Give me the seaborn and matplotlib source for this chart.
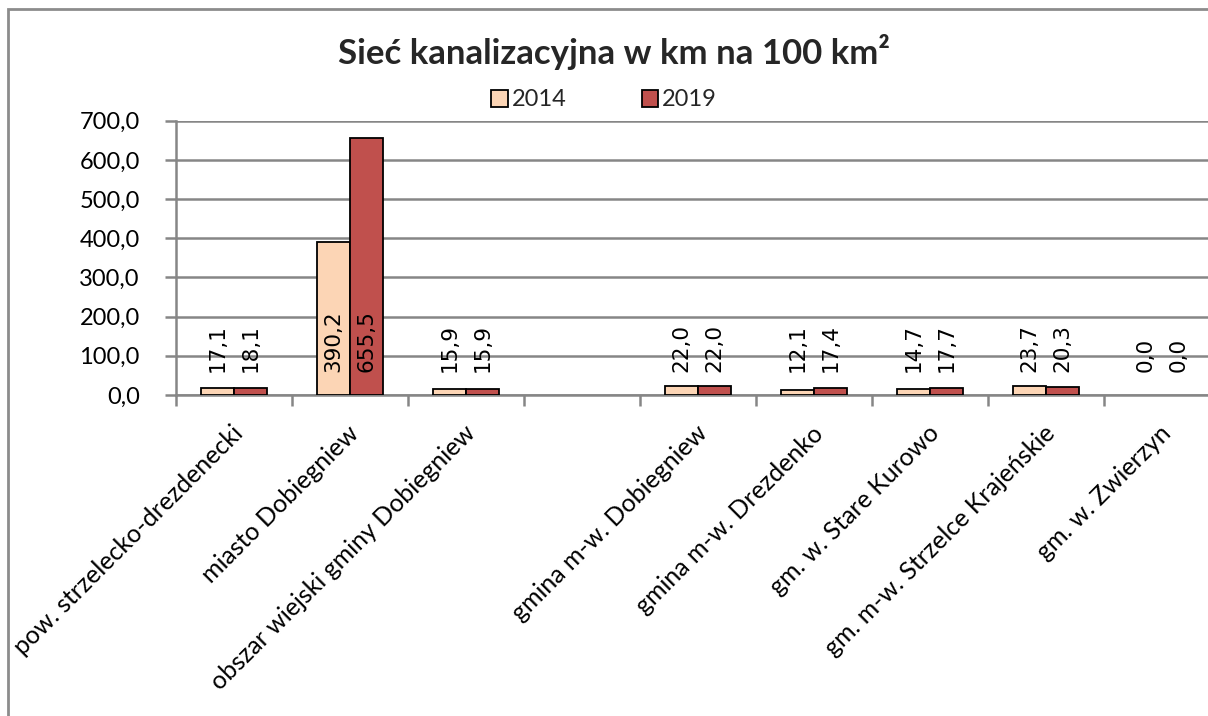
import numpy as np
import pandas as pd
import matplotlib
matplotlib.use("Agg")
import matplotlib.pyplot as plt
from matplotlib.patches import Patch, Rectangle
from matplotlib.ticker import FixedLocator, FuncFormatter
from matplotlib.transforms import ScaledTranslation
import seaborn as sns

# --- data -------------------------------------------------------------
categories = [
    "pow. strzelecko-drezdenecki",
    "miasto Dobiegniew",
    "obszar wiejski gminy Dobiegniew",
    " ",
    "gmina m-w. Dobiegniew",
    "gmina m-w. Drezdenko",
    "gm. w. Stare Kurowo",
    "gm. m-w. Strzelce Krajeńskie",
    "gm. w. Zwierzyn",
]
values_2014 = [17.1, 390.2, 15.9, np.nan, 22.0, 12.1, 14.7, 23.7, 0.0]
values_2019 = [18.1, 655.5, 15.9, np.nan, 22.0, 17.4, 17.7, 20.3, 0.0]
years = ["2014", "2019"]
colors = {"2014": "#FCD5B5", "2019": "#C0504D"}

df = pd.DataFrame({
    "kategoria": categories * 2,
    "rok": [years[0]] * len(categories) + [years[1]] * len(categories),
    "wartosc": values_2014 + values_2019,
})

# --- figure -------------------------------------------------------------
sns.set_theme(style="white")
plt.rcParams["font.family"] = ["Lato", "DejaVu Sans"]

W, H = 1208, 716
fig = plt.figure(figsize=(W / 100, H / 100), dpi=100)
ax = fig.add_axes([176 / W, 1 - 395 / H, (9 * 116) / W, (395 - 120.7) / H])

sns.barplot(
    data=df.dropna(), x="kategoria", y="wartosc", hue="rok",
    order=categories, hue_order=years, palette=colors, saturation=1,
    width=0.57, gap=0, edgecolor="black", linewidth=1.3,
    legend=False, ax=ax, zorder=3,
)

ax.set_ylim(0, 700)
ax.set_xlim(-0.5, len(categories) - 0.5)
ax.set_xlabel("")
ax.set_ylabel("")

grid_c = "#868686"
ax.yaxis.set_major_locator(FixedLocator(np.arange(0, 701, 100)))
ax.yaxis.set_major_formatter(FuncFormatter(lambda v, p: f"{v:.1f}".replace(".", ",")))
ax.grid(axis="y", color=grid_c, linewidth=1.8, zorder=0)
ax.set_axisbelow(True)

for s in ["top", "right"]:
    ax.spines[s].set_visible(False)
for s in ["left", "bottom"]:
    ax.spines[s].set_color(grid_c)
    ax.spines[s].set_linewidth(1.8)

ax.tick_params(axis="y", which="major", left=True, length=8, width=1.8,
               color=grid_c, labelsize=17, labelcolor="black", pad=18)
# category boundaries get the tick marks, labels sit at the centres
ax.set_xticks(np.arange(-0.5, len(categories), 1.0), minor=True)
ax.tick_params(axis="x", which="minor", bottom=True, length=8, width=1.8, color=grid_c)
ax.tick_params(axis="x", which="major", bottom=False, length=0, labelsize=18,
               labelcolor="black", pad=4)
ax.set_xticks(range(len(categories)))
ax.set_xticklabels(categories, rotation=45, ha="right", rotation_mode="anchor")
for lbl in ax.get_xticklabels():
    lbl.set_transform(lbl.get_transform() + ScaledTranslation(-0.03, -0.21, fig.dpi_scale_trans))

# value labels, written vertically at a common height; empty bars get no outline
for cont in ax.containers:
    for bar in cont:
        h = bar.get_height()
        if np.isnan(h):
            continue
        if h == 0:
            bar.set_linewidth(0)
        ax.text(bar.get_x() + bar.get_width() / 2, 58, f"{h:.1f}".replace(".", ","),
                rotation=90, ha="center", va="bottom", fontsize=15.5,
                family="DejaVu Sans", color="black", zorder=5)

# title and legend
fig.text(0.508, 1 - 52 / H, "Sieć kanalizacyjna w km na 100 km²",
         ha="center", va="center", fontsize=25, fontweight="bold")
handles = [Patch(facecolor=colors[y], edgecolor="black", linewidth=1.3, label=y) for y in years]
fig.legend(handles=handles, loc="center", bbox_to_anchor=(0.5, 1 - 100 / H), ncol=2,
           frameon=False, fontsize=17, handlelength=0.7, handleheight=0.7,
           handletextpad=0.15, columnspacing=3.2)

# chart border
fig.patches.append(Rectangle((8 / W, -0.05), 1.1, 1 - 9 / H + 0.05, transform=fig.transFigure,
                             fill=False, edgecolor="#8C8C8C", linewidth=2, zorder=10))

fig.savefig("out.png", dpi=100)
